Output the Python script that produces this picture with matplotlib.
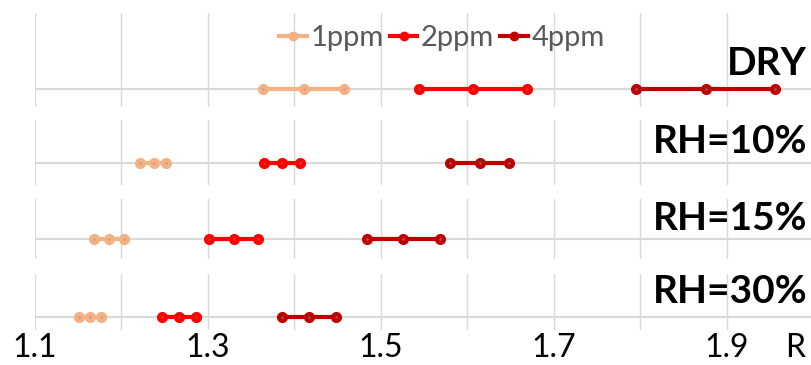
import matplotlib
matplotlib.use("Agg")
import matplotlib.pyplot as plt
from matplotlib.lines import Line2D

plt.rcParams['font.family'] = ['Lato', 'DejaVu Sans']

# Conditions (top to bottom) and the R range (min, mean, max) for each concentration
conditions = ["DRY", "RH=10%", "RH=15%", "RH=30%"]
series_names = ["1ppm", "2ppm", "4ppm"]
r_1ppm = [(1.364, 1.411, 1.457), (1.221, 1.237, 1.251), (1.168, 1.185, 1.203), (1.151, 1.164, 1.176)]
r_2ppm = [(1.544, 1.606, 1.669), (1.365, 1.386, 1.406), (1.301, 1.330, 1.358), (1.247, 1.267, 1.286)]
r_4ppm = [(1.795, 1.876, 1.956), (1.580, 1.614, 1.648), (1.484, 1.526, 1.568), (1.386, 1.417, 1.448)]
tick_values = [1.1, 1.3, 1.5, 1.7, 1.9]
tick_labels = ["1.1", "1.3", "1.5", "1.7", "1.9"]
grid_values = [1.1, 1.2, 1.3, 1.4, 1.5, 1.6, 1.7, 1.8, 1.9]
axis_name = "R"

colors = ["#F4B183", "#FF0000", "#C00000"]
face_colors = ["#F4B183", "#FF0000", "#C00000"]
center_colors = ["#C9A08A", "#E03030", "#8C5A5A"]

W, H = 811, 365
fig = plt.figure(figsize=(W / 100, H / 100), dpi=100)

# panel pixel extents: (top, bottom, baseline)
panels_px = [(13, 107, 89), (120, 185, 163), (199, 259, 239), (274, 330, 317)]
label_baseline_px = [75, 153, 230, 303]
x_left_px, x_right_px = 35, 811
xmin, xmax = 1.1, 1.1 + (x_right_px - x_left_px) / 865.0

all_series = [r_1ppm, r_2ppm, r_4ppm]
axes = []
for i, (top, bot, base) in enumerate(panels_px):
    ax = fig.add_axes([x_left_px / W, 1 - bot / H, (x_right_px - x_left_px) / W, (bot - top) / H])
    frac = (bot - base) / (bot - top)
    ax.set_ylim(-frac, 1 - frac)
    ax.set_xlim(xmin, xmax)
    for s in ax.spines.values():
        s.set_visible(False)
    ax.set_yticks([])
    for g in grid_values:
        ax.axvline(g, color="#D9D9D9", lw=1.0, zorder=0)
    ax.axhline(0, color="#D9D9D9", lw=1.5, zorder=1)
    for k, ser in enumerate(all_series):
        vals = ser[i]
        ax.plot(vals, [0] * len(vals), color=colors[k], lw=3.0, marker="o",
                markersize=7, markerfacecolor=face_colors[k],
                markeredgecolor=colors[k], zorder=3, solid_capstyle="butt")
        ax.plot(vals, [0] * len(vals), ls="none", marker="o", markersize=2,
                markerfacecolor=center_colors[k], markeredgecolor="none", zorder=4)
    ax.tick_params(axis="x", length=0)
    if i < len(panels_px) - 1:
        ax.set_xticks([])
    else:
        ax.set_xticks(tick_values)
        ax.set_xticklabels(tick_labels, fontsize=23, color="#000000")
        ax.tick_params(axis="x", pad=2)
        ax.annotate(axis_name, xy=(1.979, 0), xycoords=("data", "axes fraction"),
                    xytext=(0, -2), textcoords="offset points",
                    ha="center", va="top", fontsize=23, color="#000000")
    axes.append(ax)
    fig.text(807 / W, 1 - label_baseline_px[i] / H, conditions[i], ha="right",
             va="baseline", fontsize=28, fontweight="bold", color="#000000")

handles = [Line2D([0], [0], color=colors[k], lw=3.0, marker="o", markersize=6,
                  markerfacecolor=face_colors[k], markeredgecolor=colors[k])
           for k in range(3)]
fig.legend(handles, series_names, loc="center", bbox_to_anchor=(442 / W, 1 - 38 / H),
           ncol=3, frameon=False, fontsize=21, handlelength=0.95, handletextpad=0.12,
           columnspacing=0.2, labelcolor="#595959", borderaxespad=0)

fig.savefig("out.png", dpi=100)
